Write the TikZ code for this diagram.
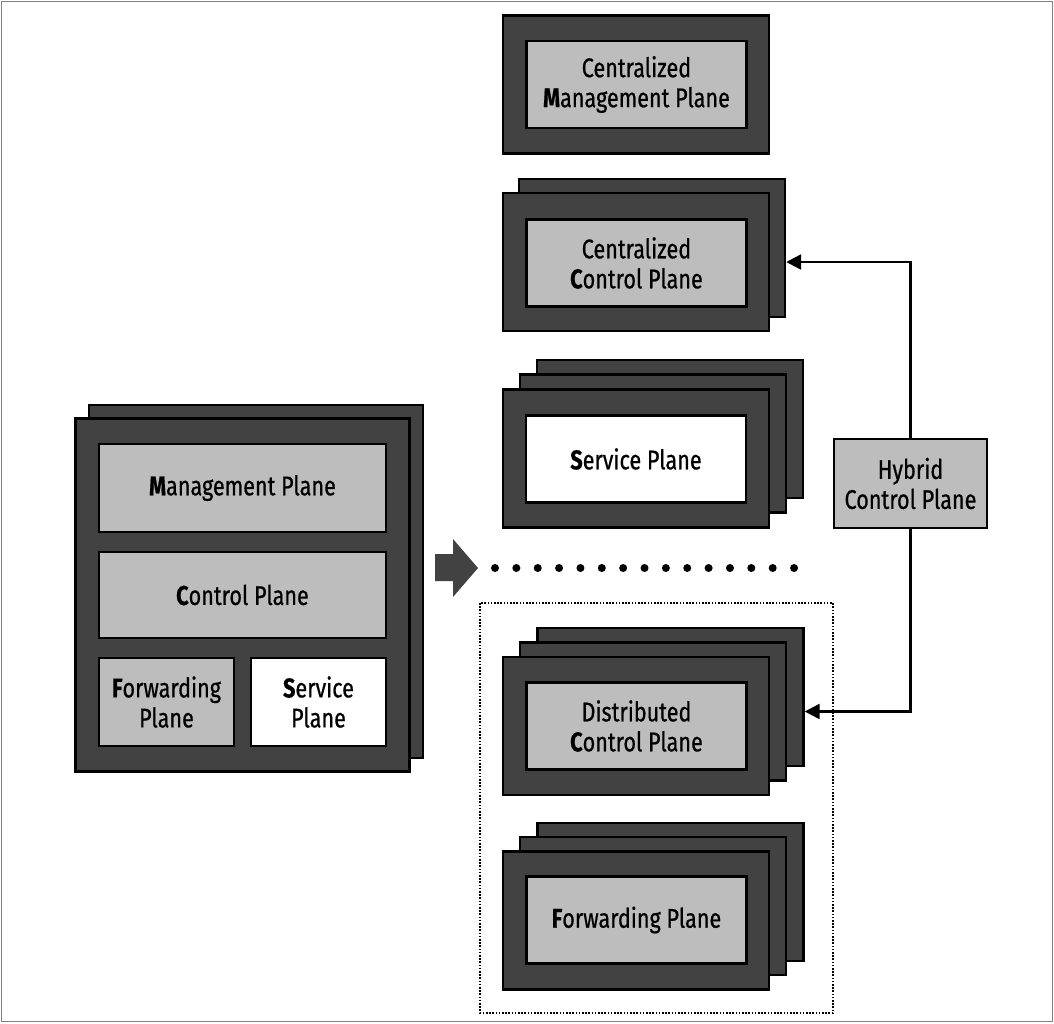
\documentclass[tikz,border=0pt]{standalone}
\usepackage{fontspec}
\setmainfont{Fira Sans}[FakeStretch=0.8, FakeBold=0.6, BoldFeatures={FakeBold=0.6}]
\usetikzlibrary{arrows.meta}
\definecolor{shellgray}{HTML}{424242}
\definecolor{plategray}{HTML}{BDBDBD}
\begin{document}
\begin{tikzpicture}[x=1pt, y=-1pt,
	shell/.style = {draw, fill=shellgray, line width=2.4pt, minimum width=266pt, minimum height=138pt},
	plate/.style = {draw, fill=plategray, line width=2.4pt, minimum width=220pt, minimum height=87pt,
		align=center, inner sep=0pt, font=\fontsize{27}{30}\selectfont},
	link/.style = {line width=2.4pt, -{Triangle[length=15pt, width=15pt]}}]
	\useasboundingbox (0,0) rectangle (1054,1023);
	\draw[gray, line width=1.5pt] (1.5,1.5) rectangle (1052.5,1021.5);
	% left: one box
	\node[shell, minimum width=334pt, minimum height=353pt] (boxb) at (256,581.5) {};
	\node[shell, minimum width=334pt, minimum height=353pt] (box) at (242.5,595) {};
	\node[plate, minimum width=287pt, minimum height=88pt] (mp) at (242.5,488) {\textbf{M}anagement Plane};
	\node[plate, minimum width=287pt, minimum height=86pt] (cp) at (242.5,595) {\textbf{C}ontrol Plane};
	\node[plate, minimum width=135pt, minimum height=88pt] (fp) at (166.5,702) {\textbf{F}orwarding\\Plane};
	\node[plate, fill=white, minimum width=135pt, minimum height=88pt] (sp) at (318.5,702) {\textbf{S}ervice\\Plane};
	% split arrow and dots
	\fill[shellgray] (435,554) -- (453,554) -- (453,539) -- (478,568) -- (453,597) -- (453,581) -- (435,581) -- cycle;
	\foreach \i in {0,...,14}
		\fill (495+\i*21.36,568) circle (4);
	\draw[line width=2.2pt, dash pattern=on 1.6pt off 1.6pt] (480,603) rectangle (833,1013);
	% right column
	\node[shell] (cm) at (636,84.5) {};
	\node[plate] (cmp) at (636.5,84.5) {Centralized\\\textbf{M}anagement Plane};
	\node[shell] (ccb) at (652,248) {};
	\node[shell] (cc) at (636,262) {};
	\node[plate] (ccp) at (636.5,263) {Centralized\\\textbf{C}ontrol Plane};
	\node[shell] (ssb) at (670,429) {};
	\node[shell] (ssm) at (653,443.5) {};
	\node[shell] (ss) at (636,458.5) {};
	\node[plate, fill=white] (ssp) at (636,459) {\textbf{S}ervice Plane};
	\node[shell] (dcb) at (670.5,697) {};
	\node[shell] (dcm) at (653,711.5) {};
	\node[shell] (dc) at (636,726) {};
	\node[plate] (dcp) at (636.5,726) {Distributed\\\textbf{C}ontrol Plane};
	\node[shell] (fwb) at (670.5,892) {};
	\node[shell] (fwm) at (653,906) {};
	\node[shell] (fw) at (636,920.5) {};
	\node[plate] (fwp) at (636.5,920) {\textbf{F}orwarding Plane};
	% hybrid
	\node[plate, minimum width=153pt, minimum height=89pt] (hyb) at (910.5,483.5) {Hybrid\\Control Plane};
	\draw[link] (hyb.north) |- (ccb.east |- cc.east);
	\draw[link] (hyb.south) |- (dcb.east |- dcm.east);
\end{tikzpicture}
\end{document}
